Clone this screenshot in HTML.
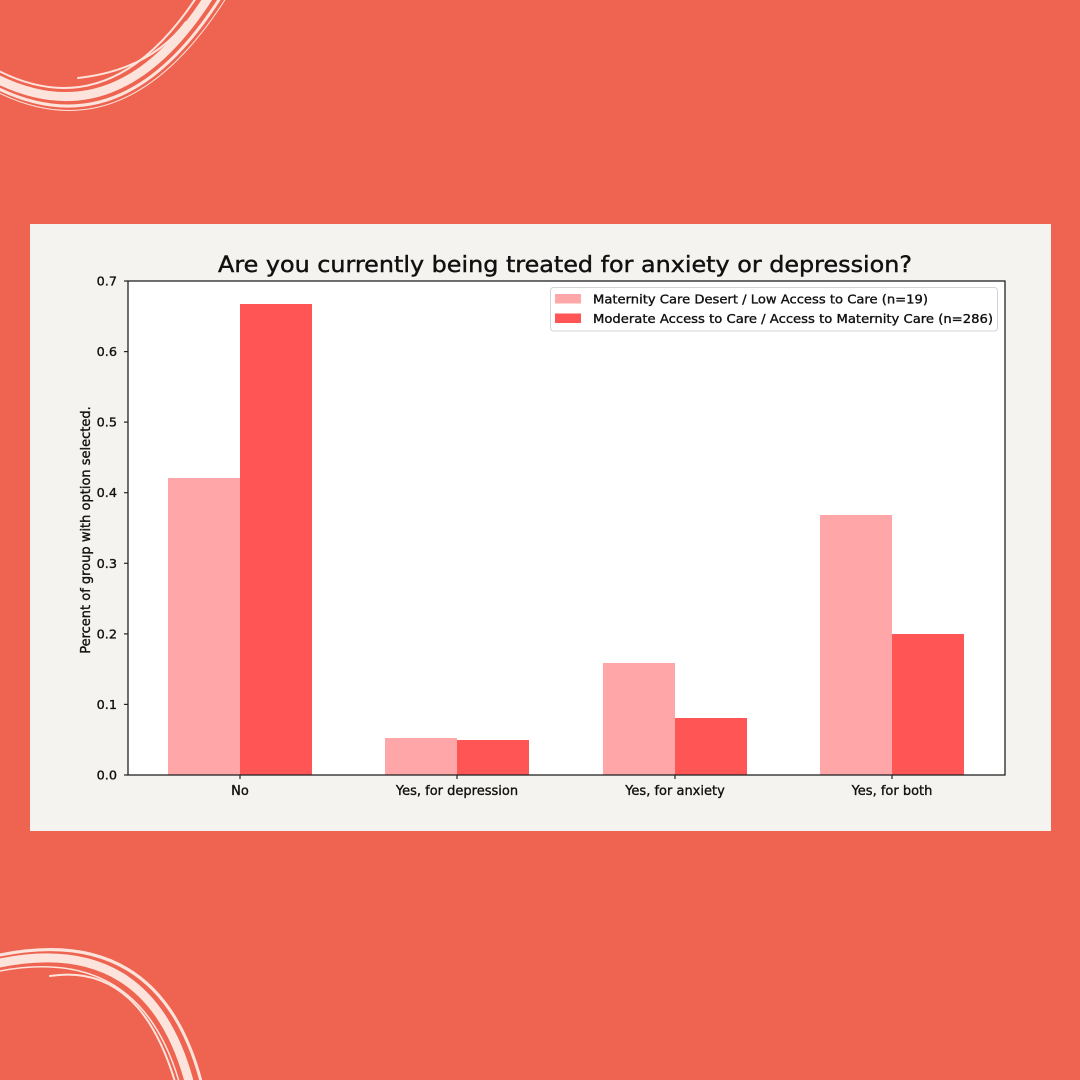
<!DOCTYPE html>
<html>
<head>
<meta charset="utf-8">
<style>
html,body{margin:0;padding:0;background:#EE6450;width:1080px;height:1080px;overflow:hidden;}
svg{display:block;overflow:hidden;}
text{font-family:"DejaVu Sans","Liberation Sans",sans-serif;fill:#111;stroke:#111;stroke-width:0.35;}
</style>
</head>
<body>
<svg width="1080" height="1080" viewBox="0 0 1080 1080" xmlns="http://www.w3.org/2000/svg">
  <rect x="0" y="0" width="1080" height="1080" fill="#EE6450"/>

  <!-- decorative brush arcs top-left -->
  <g fill="none" stroke="#FCE3DB" stroke-linecap="round">
    <path d="M -5 78 Q 118 140 210 -5" stroke-width="9"/>
    <path d="M -5 87 Q 124 152 222 -5" stroke-width="3"/>
    <path d="M -5 69 Q 110 130 198 -5" stroke-width="2"/>
    <path d="M 78 78 Q 150 70 186 22" stroke-width="2"/>
    <path d="M -5 91 Q 126 158 228 -5" stroke-width="1"/>
  </g>
  <!-- decorative brush arcs bottom-left -->
  <g fill="none" stroke="#FCE3DB" stroke-linecap="round">
    <path d="M -5 964 Q 150 930 190 1085" stroke-width="9"/>
    <path d="M -5 956 Q 160 920 202 1085" stroke-width="3"/>
    <path d="M 50 976 Q 140 962 176 1085" stroke-width="2"/>
    <path d="M -5 972 Q 140 942 180 1085" stroke-width="1.5"/>
  </g>

  <!-- panel -->
  <rect x="30" y="224" width="1021" height="607" fill="#F5F3EF"/>

  <!-- plot area -->
  <rect x="128" y="281" width="877" height="494" fill="#FFFFFF"/>

  <!-- bars -->
  <g>
    <rect x="168" y="478" width="72" height="297" fill="#FFA6A8"/>
    <rect x="240" y="304" width="72" height="471" fill="#FF5555"/>

    <rect x="385" y="738" width="72" height="37" fill="#FFA6A8"/>
    <rect x="457" y="740" width="72" height="35" fill="#FF5555"/>

    <rect x="603" y="663" width="72" height="112" fill="#FFA6A8"/>
    <rect x="675" y="718" width="72" height="57" fill="#FF5555"/>

    <rect x="820" y="515" width="72" height="260" fill="#FFA6A8"/>
    <rect x="892" y="634" width="72" height="141" fill="#FF5555"/>
  </g>

  <!-- axes spines -->
  <rect x="128" y="281" width="877" height="494" fill="none" stroke="#222" stroke-width="1.3"/>

  <!-- y ticks -->
  <g stroke="#222" stroke-width="1.2">
    <line x1="124" y1="775" x2="128" y2="775"/>
    <line x1="124" y1="704.4" x2="128" y2="704.4"/>
    <line x1="124" y1="633.9" x2="128" y2="633.9"/>
    <line x1="124" y1="563.3" x2="128" y2="563.3"/>
    <line x1="124" y1="492.7" x2="128" y2="492.7"/>
    <line x1="124" y1="422.1" x2="128" y2="422.1"/>
    <line x1="124" y1="351.6" x2="128" y2="351.6"/>
    <line x1="124" y1="281" x2="128" y2="281"/>
  </g>
  <g font-size="12.8" text-anchor="end">
    <text x="117" y="779.5">0.0</text>
    <text x="117" y="708.9">0.1</text>
    <text x="117" y="638.4">0.2</text>
    <text x="117" y="567.8">0.3</text>
    <text x="117" y="497.2">0.4</text>
    <text x="117" y="426.6">0.5</text>
    <text x="117" y="356.1">0.6</text>
    <text x="117" y="285.5">0.7</text>
  </g>

  <!-- x ticks -->
  <g stroke="#222" stroke-width="1.2">
    <line x1="240" y1="775" x2="240" y2="779"/>
    <line x1="457" y1="775" x2="457" y2="779"/>
    <line x1="675" y1="775" x2="675" y2="779"/>
    <line x1="892" y1="775" x2="892" y2="779"/>
  </g>
  <g font-size="13" text-anchor="middle">
    <text x="240" y="795">No</text>
    <text x="457" y="795">Yes, for depression</text>
    <text x="675" y="795">Yes, for anxiety</text>
    <text x="892" y="795">Yes, for both</text>
  </g>

  <!-- y label -->
  <text font-size="13" text-anchor="middle" transform="translate(90,530) rotate(-90)">Percent of group with option selected.</text>

  <!-- title -->
  <text x="565" y="272" font-size="22.5" text-anchor="middle" textLength="694" lengthAdjust="spacingAndGlyphs" style="stroke-width:0.45">Are you currently being treated for anxiety or depression?</text>

  <!-- legend -->
  <rect x="550.5" y="287.5" width="447" height="43.5" rx="3" fill="#FFFFFF" stroke="#D4D4D4" stroke-width="1"/>
  <rect x="555" y="294" width="26" height="9.5" fill="#FFA6A8"/>
  <rect x="555" y="313.5" width="26" height="9.5" fill="#FF5555"/>
  <g font-size="12.5">
    <text x="593" y="303.5" textLength="335" lengthAdjust="spacingAndGlyphs">Maternity Care Desert / Low Access to Care (n=19)</text>
    <text x="593" y="323" textLength="400" lengthAdjust="spacingAndGlyphs">Moderate Access to Care / Access to Maternity Care (n=286)</text>
  </g>
</svg>
</body>
</html>
